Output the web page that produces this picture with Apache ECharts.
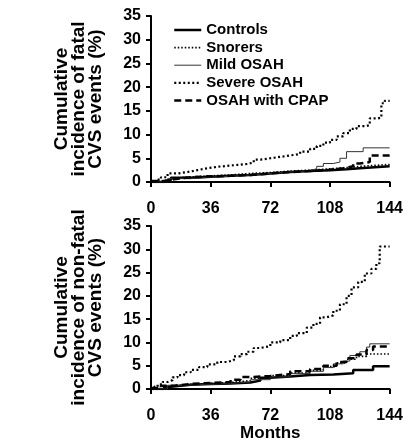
<!DOCTYPE html>
<html>
<head>
<meta charset="utf-8">
<script src="https://cdn.jsdelivr.net/npm/echarts@6/dist/echarts.min.js"></script>
<style>
  html, body { margin: 0; padding: 0; background: #fff; }
  #chart { width: 406px; height: 444px; }
</style>
</head>
<body>
<div id="chart"></div>
<script>
const seriesNames = ["Controls", "Snorers", "Mild OSAH", "Severe OSAH", "OSAH with CPAP"];
const monthTicks = [0, 36, 72, 108, 144];

// fatal CVS events, [month, cumulative %]
const controlsFatal = [[0,0],[8,0.4],[12,0.9],[24,1.1],[36,1.3],[48,1.5],[60,1.8],[72,2.1],[84,2.3],[96,2.5],[108,2.7],[118,2.9],[126,3.3],[144,3.3]];
const snorersFatal = [[0,0.2],[6,0.6],[12,1.0],[20,1.3],[36,1.5],[48,1.8],[60,2.0],[72,2.3],[84,2.5],[96,2.8],[108,3.1],[120,3.4],[130,3.7],[144,3.7]];
const mildFatal = [[0,0],[10,0.7],[24,1.0],[36,1.2],[48,1.5],[60,1.8],[72,2.1],[84,2.4],[96,2.8],[100,3.3],[104,3.9],[110,4.2],[114,5.0],[118,6.4],[128,7.2],[144,7.2]];
const severeFatal = [[0,0],[3,0.5],[6,1.0],[10,1.8],[16,2.1],[22,2.5],[28,2.9],[34,3.2],[40,3.4],[46,3.6],[52,3.8],[58,4.1],[62,4.7],[66,5.0],[72,5.3],[78,5.6],[84,5.9],[90,6.4],[96,7.0],[100,7.6],[104,8.3],[108,8.9],[112,9.6],[116,10.3],[120,11.2],[124,11.8],[130,12.0],[132,13.4],[137,13.6],[139,16.6],[141,17.1],[144,17.1]];
const cpapFatal = [[0,0.2],[8,0.6],[14,1.0],[24,1.2],[36,1.3],[48,1.5],[60,1.8],[72,2.1],[84,2.3],[96,2.6],[108,2.9],[116,3.3],[122,3.9],[126,4.2],[132,5.6],[144,5.6]];

// non-fatal CVS events
const controlsNonFatal = [[0,0],[8,0.5],[12,0.9],[24,1.1],[36,1.2],[48,1.4],[60,1.8],[66,2.4],[72,2.7],[84,3.0],[96,3.1],[110,3.4],[122,4.1],[134,4.9],[144,4.9]];
const snorersNonFatal = [[0,0],[8,0.6],[12,1.0],[24,1.2],[36,1.4],[48,1.8],[60,2.3],[72,2.9],[84,3.4],[96,4.0],[104,4.8],[112,5.6],[118,6.4],[124,7.0],[130,7.5],[144,7.5]];
const mildNonFatal = [[0,0],[10,0.8],[20,1.0],[36,1.2],[48,1.5],[60,2.0],[72,2.6],[84,3.3],[96,3.8],[104,4.6],[110,5.4],[116,6.0],[120,7.2],[126,8.0],[130,9.0],[132,9.7],[144,9.7]];
const severeNonFatal = [[0,0],[2,0.5],[4,1.0],[7,1.5],[10,1.9],[13,2.5],[16,3.0],[20,3.6],[24,4.1],[29,4.7],[34,5.3],[40,5.8],[46,6.2],[50,7.0],[54,7.5],[58,8.0],[62,8.8],[66,9.2],[72,10.0],[78,10.5],[84,11.4],[88,12.0],[94,13.2],[98,14.0],[102,15.4],[106,15.8],[110,16.8],[114,18.2],[118,20.0],[121,21.8],[125,23.0],[129,24.8],[133,25.8],[136,27.0],[138,30.6],[144,30.6]];
const cpapNonFatal = [[0,0.2],[6,0.7],[14,1.1],[24,1.3],[36,1.5],[48,2.0],[54,2.6],[62,2.8],[72,3.2],[84,3.8],[96,4.3],[104,5.0],[112,5.8],[118,6.6],[124,7.4],[130,8.4],[134,9.1],[144,9.1]];

const fatalData = [controlsFatal, snorersFatal, mildFatal, severeFatal, cpapFatal];
const nonFatalData = [controlsNonFatal, snorersNonFatal, mildNonFatal, severeNonFatal, cpapNonFatal];

const font = "Liberation Sans, Arial, sans-serif";
const lineStyles = [
  { color: "#000", width: 2.5, type: "solid" },
  { color: "#000", width: 1.6, type: [1.5, 2] },
  { color: "#333", width: 1, type: "solid" },
  { color: "#000", width: 2.2, type: [2, 2.5] },
  { color: "#000", width: 2.5, type: [7, 4] }
];

const chart = echarts.init(document.getElementById("chart"));

function makeX(idx, showName) {
  return {
    type: "value", gridIndex: idx, min: 0, max: 144, interval: 36,
    name: showName ? "Months" : "",
    nameLocation: "middle", nameGap: 36,
    nameTextStyle: { color: "#000", fontSize: 17, fontWeight: "bold", fontFamily: font },
    splitLine: { show: false },
    axisLine: { lineStyle: { color: "#000", width: 2 } },
    axisTick: { length: 5, lineStyle: { color: "#000", width: 2 } },
    axisLabel: { color: "#000", fontSize: 16, fontWeight: "bold", fontFamily: font, margin: 19 }
  };
}
function makeY(idx, title) {
  return {
    type: "value", gridIndex: idx, min: 0, max: 35, interval: 5,
    name: title, nameLocation: "middle", nameRotate: 90, nameGap: 47,
    nameTextStyle: { color: "#000", fontSize: 19, fontWeight: "bold", fontFamily: font, lineHeight: 17 },
    splitLine: { show: false },
    axisLine: { lineStyle: { color: "#000", width: 2 } },
    axisTick: { length: 5, lineStyle: { color: "#000", width: 2 } },
    axisLabel: { color: "#000", fontSize: 16, fontWeight: "bold", fontFamily: font, margin: 10 }
  };
}

const series = [];
[fatalData, nonFatalData].forEach((group, g) => {
  group.forEach((data, i) => {
    series.push({
      name: seriesNames[i], type: "line", step: "end",
      xAxisIndex: g, yAxisIndex: g,
      symbol: "none", data: data,
      lineStyle: lineStyles[i], itemStyle: { color: lineStyles[i].color },
      silent: true
    });
  });
});

chart.setOption({
  backgroundColor: "#fff",
  animation: false,
  grid: [
    { left: 151, top: 16, width: 242, height: 166 },
    { left: 151, top: 226, width: 242, height: 163 }
  ],
  legend: {
    data: seriesNames.map((n, i) => ({ name: n, lineStyle: { width: lineStyles[i].width } })),
    orient: "vertical", left: 173, top: 22, padding: 0,
    itemWidth: 27, itemHeight: 14, itemGap: 1.6,
    itemStyle: { opacity: 0, borderWidth: 0 },
    textStyle: { color: "#000", fontSize: 15, fontWeight: "bold", fontFamily: font, lineHeight: 16 }
  },
  xAxis: [makeX(0, false), makeX(1, true)],
  yAxis: [
    makeY(0, "Cumulative\nincidence of fatal\nCVS events (%)"),
    makeY(1, "Cumulative\nincidence of non-fatal\nCVS events (%)")
  ],
  series: series
});
</script>
</body>
</html>
